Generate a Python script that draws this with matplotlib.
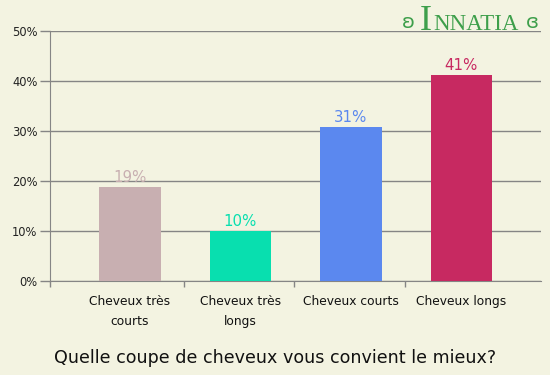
import matplotlib
matplotlib.use("Agg")
import matplotlib.pyplot as plt

# chart data
categories = ["Cheveux très\ncourts", "Cheveux très\nlongs", "Cheveux courts", "Cheveux longs"]
values = [18.8, 10.1, 30.8, 41.2]
value_labels = ["19%", "10%", "31%", "41%"]
colors = ["#C8AFB1", "#08DFAF", "#5B88EF", "#C72961"]
y_ticks = [0, 10, 20, 30, 40, 50]

bg = "#F3F3E1"
grey = "#858585"

fig = plt.figure(figsize=(5.5, 3.75), dpi=100, facecolor=bg)
ax = fig.add_axes([50 / 550, 1 - 281 / 375, 491 / 550, 250 / 375])
ax.set_facecolor(bg)

x = list(range(len(categories)))
ax.bar(x, values, width=0.56, color=colors, zorder=3)
for xi, v, lab, c in zip(x, values, value_labels, colors):
    ax.text(xi, v + 0.3, lab, ha="center", va="bottom", color=c, fontsize=10.8, zorder=4)

ax.set_xlim(-0.724, 3.72)
ax.set_ylim(0, 50)

# horizontal grid lines
for t in y_ticks:
    ax.axhline(t, color=grey, lw=1, zorder=1)

ax.set_yticks(y_ticks)
ax.set_yticklabels([f"{t}%" for t in y_ticks], fontsize=8.3, color="#222222")
ax.tick_params(axis="y", length=7, color=grey, width=1, pad=2)

# category labels under bars, tick marks between groups
ax.set_xticks(x)
ax.set_xticklabels(categories, fontsize=8.8, color="#111111", linespacing=1.75)
ax.tick_params(axis="x", length=0, pad=10)
ax.set_xticks([-0.724, 0.49, 1.485, 2.49], minor=True)
ax.tick_params(axis="x", which="minor", length=4, color=grey, width=1)

for s in ["top", "right"]:
    ax.spines[s].set_visible(False)
ax.spines["left"].set_color(grey)
ax.spines["bottom"].set_color(grey)

fig.text(0.5, 1 - 358 / 375, "Quelle coupe de cheveux vous convient le mieux?",
         ha="center", va="center", fontsize=12.6, color="#111111")

# logo
green = "#3E9F4B"
fig.text(408 / 550, 1 - 23 / 375, "ʚ", ha="center", va="center", fontsize=14, color=green)
fig.text(426 / 550, 1 - 30 / 375, "I", ha="center", va="baseline", fontsize=26,
         color=green, family="Liberation Serif")
fig.text(433 / 550, 1 - 30 / 375, "NNATIA", ha="left", va="baseline", fontsize=16.5,
         color=green, family="Liberation Serif")
fig.text(532 / 550, 1 - 23 / 375, "ɞ", ha="center", va="center", fontsize=14, color=green)

fig.savefig("out.png", dpi=100, facecolor=bg)
